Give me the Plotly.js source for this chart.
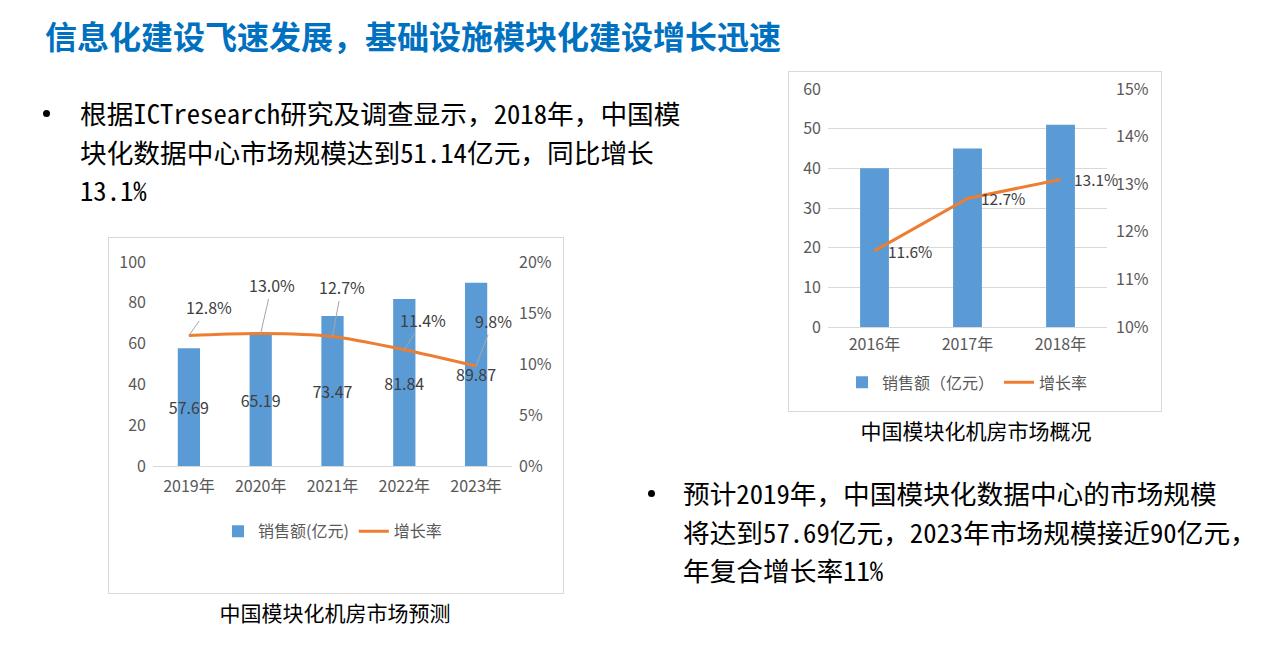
<!DOCTYPE html>
<html><head><meta charset="utf-8">
<script src="https://cdn.plot.ly/plotly-3.0.1.min.js"></script>
<style>
body{margin:0;width:1273px;height:645px;background:#fff;position:relative;overflow:hidden;font-family:"Noto Sans CJK SC",sans-serif;}
.title{position:absolute;left:45px;top:13px;font-size:32px;font-weight:bold;color:#0070C0;line-height:44px;white-space:nowrap;}
.para{position:absolute;font-size:26.7px;line-height:38.5px;color:#000;white-space:nowrap;font-family:"Noto Sans Mono CJK SC","Noto Sans CJK SC",sans-serif;}
.dot{position:absolute;width:7px;height:7px;border-radius:50%;background:#000;}
.box{position:absolute;border:1px solid #D9D9D9;box-sizing:border-box;pointer-events:none;}
.plot{position:absolute;}
.cap{position:absolute;font-size:21px;line-height:30px;color:#000;white-space:nowrap;transform:translateX(-50%);}
</style>
</head>
<body>
<div class="title" id="title"></div>
<div class="dot" style="left:43px;top:110px;"></div>
<div class="para" id="p1" style="left:80px;top:94px;"></div>
<div class="dot" style="left:648px;top:490px;"></div>
<div class="para" id="p2" style="left:683px;top:474px;"></div>

<div class="plot" id="chartA" style="left:108px;top:237px;width:455px;height:356px;"></div>
<div class="box" style="left:108px;top:237px;width:456px;height:357px;"></div>
<div class="cap" id="capA" style="left:335px;top:597px;"></div>

<div class="plot" id="chartB" style="left:788px;top:71px;width:373px;height:340px;"></div>
<div class="box" style="left:788px;top:71px;width:374px;height:341px;"></div>
<div class="cap" id="capB" style="left:976px;top:415px;"></div>

<script>
// ---- text ----
const titleText = "信息化建设飞速发展，基础设施模块化建设增长迅速";
const para1Lines = ["根据ICTresearch研究及调查显示，2018年，中国模", "块化数据中心市场规模达到51.14亿元，同比增长", "13.1%"];
const para2Lines = ["预计2019年，中国模块化数据中心的市场规模", "将达到57.69亿元，2023年市场规模接近90亿元，", "年复合增长率11%"];
const captionA = "中国模块化机房市场预测";
const captionB = "中国模块化机房市场概况";

// ---- chart A: forecast ----
const yearsA = ["2019年", "2020年", "2021年", "2022年", "2023年"];
const salesA = [57.69, 65.19, 73.47, 81.84, 89.87];
const growthA = [0.128, 0.130, 0.127, 0.114, 0.098];
const growthLabelsA = ["12.8%", "13.0%", "12.7%", "11.4%", "9.8%"];
const barNameA = "销售额(亿元)";
const lineName = "增长率";

// ---- chart B: overview ----
const yearsB = ["2016年", "2017年", "2018年"];
const salesB = [40, 45, 51];
const growthB = [0.116, 0.127, 0.131];
const growthLabelsB = ["11.6%", "12.7%", "13.1%"];
const barNameB = "销售额（亿元）";

// label offsets (style) for chart A callouts
const calloutAX = [20, 11, 9, 19, 17];
const calloutAY = [-28, -48, -49, -30, -45];

document.getElementById('title').textContent = titleText;
document.getElementById('p1').innerHTML = para1Lines.join('<br>');
document.getElementById('p2').innerHTML = para2Lines.join('<br>');
document.getElementById('capA').textContent = captionA;
document.getElementById('capB').textContent = captionB;

const BLUE = '#5B9BD5', ORANGE = '#ED7D31', TICK = '#595959', LBL = '#404040';
const FONT = '"Noto Sans CJK SC", "Noto Sans", sans-serif';

const traceA1 = {
  type: 'bar', x: yearsA, y: salesA, name: barNameA,
  marker: {color: BLUE}, width: 0.31,
  text: salesA.map(v => v.toFixed(2)), textposition: 'inside', insidetextanchor: 'middle',
  textangle: 0, constraintext: 'none',
  insidetextfont: {color: LBL, size: 16, family: FONT}, hoverinfo: 'skip'
};
const traceA2 = {
  type: 'scatter', mode: 'lines', x: yearsA, y: growthA, yaxis: 'y2', name: lineName,
  line: {color: ORANGE, width: 3, shape: 'spline', smoothing: 0.8}, hoverinfo: 'skip'
};
const annA = yearsA.map((c, i) => ({
  x: c, y: growthA[i], xref: 'x', yref: 'y2', text: growthLabelsA[i],
  showarrow: true, arrowhead: 0, arrowwidth: 1, arrowcolor: '#A6A6A6',
  ax: calloutAX[i], ay: calloutAY[i], standoff: 0,
  font: {size: 16, color: LBL, family: FONT}
}));
const layoutA = {
  width: 455, height: 356, margin: {l: 45, r: 51, t: 25, b: 127},
  paper_bgcolor: '#fff', plot_bgcolor: '#fff', font: {family: FONT, color: TICK, size: 16},
  showlegend: true,
  legend: {orientation: 'h', x: 0.5, xanchor: 'center', y: -0.32, yanchor: 'middle', font: {size: 16, color: TICK}},
  xaxis: {range: [-0.5, yearsA.length - 0.5], autorange: false, showline: true, linecolor: '#D9D9D9', linewidth: 1, ticks: '', tickfont: {size: 16, color: TICK}, ticklabelstandoff: 6},
  yaxis: {range: [0, 100], dtick: 20, showgrid: false, zeroline: false, showline: false, ticks: '', tickfont: {size: 16, color: TICK}, ticklabelstandoff: 6},
  yaxis2: {range: [0, 0.2], dtick: 0.05, tickformat: '.0%', overlaying: 'y', side: 'right', showgrid: false, zeroline: false, ticks: '', tickfont: {size: 16, color: TICK}, ticklabelstandoff: 6},
  annotations: annA
};
Plotly.newPlot('chartA', [traceA1, traceA2], layoutA, {staticPlot: true, displayModeBar: false});

const traceB1 = {
  type: 'bar', x: yearsB, y: salesB, name: barNameB, marker: {color: BLUE}, width: 0.31, hoverinfo: 'skip'
};
const traceB2 = {
  type: 'scatter', mode: 'lines', x: yearsB, y: growthB, yaxis: 'y2', name: lineName,
  line: {color: ORANGE, width: 3}, hoverinfo: 'skip'
};
const annB = yearsB.map((c, i) => ({
  x: c, y: growthB[i], xref: 'x', yref: 'y2', text: growthLabelsB[i],
  showarrow: false, xanchor: 'left', yanchor: 'middle', xshift: 11,
  font: {size: 15.5, color: LBL, family: FONT}
}));
const layoutB = {
  width: 373, height: 340, margin: {l: 40, r: 54, t: 18, b: 79},
  paper_bgcolor: '#fff', plot_bgcolor: '#fff', font: {family: FONT, color: TICK, size: 16},
  showlegend: true,
  legend: {orientation: 'h', x: 0.5, xanchor: 'center', y: -0.233, yanchor: 'middle', font: {size: 16, color: TICK}},
  xaxis: {range: [-0.5, yearsB.length - 0.5], autorange: false, showline: false, ticks: '', tickfont: {size: 16, color: TICK}, ticklabelstandoff: 6},
  yaxis: {range: [0, 60], dtick: 10, showgrid: true, gridcolor: '#D9D9D9', gridwidth: 1, zeroline: true, zerolinecolor: '#D9D9D9', ticks: '', tickfont: {size: 16, color: TICK}, ticklabelstandoff: 6},
  yaxis2: {range: [0.10, 0.15], dtick: 0.01, tickformat: '.0%', overlaying: 'y', side: 'right', showgrid: false, zeroline: false, ticks: '', tickfont: {size: 16, color: TICK}, ticklabelstandoff: 8},
  annotations: annB
};
Plotly.newPlot('chartB', [traceB1, traceB2], layoutB, {staticPlot: true, displayModeBar: false});
</script>
</body></html>
